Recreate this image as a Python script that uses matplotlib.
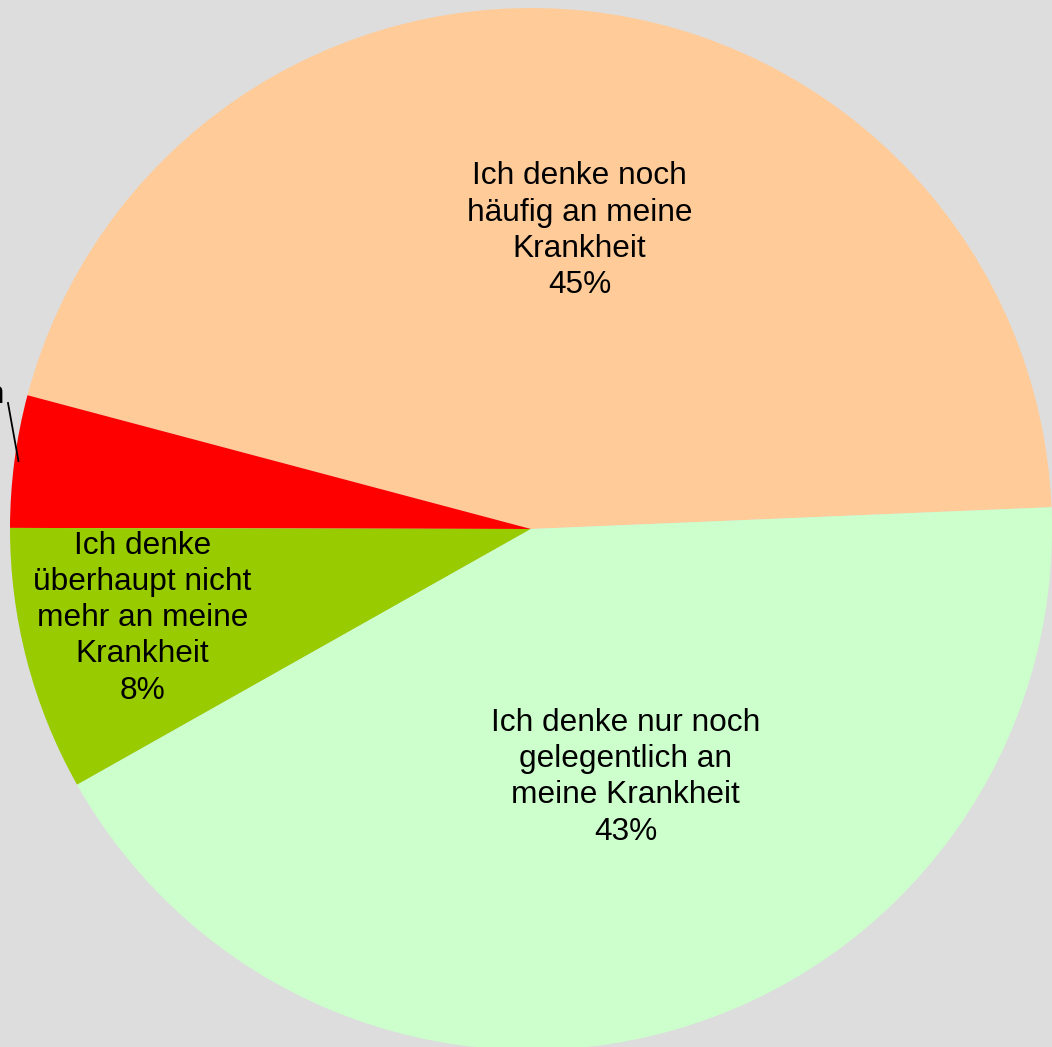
import numpy as np
import matplotlib.pyplot as plt

plt.rcParams['font.family'] = ['Liberation Sans', 'DejaVu Sans']

# data, counter-clockwise from the right edge
labels = ['Ich denke noch\nhäufig an meine\nKrankheit',
          'Ich denke nur noch selten an\nmeine Krankheit',
          'Ich denke\nüberhaupt nicht\nmehr an meine\nKrankheit',
          'Ich denke nur noch\ngelegentlich an\nmeine Krankheit']
values = [45.2, 4.1, 8.2, 42.5]
shown_pct = ['45%', '4%', '8%', '43%']
colors = ['#FFCC99', '#FF0000', '#99CC00', '#CCFFCC']

W, H = 1052, 1047
fig = plt.figure(figsize=(W / 100, H / 100), dpi=100)
fig.patch.set_facecolor('#dddddd')
ax = fig.add_axes([0, 0, 1, 1])

cx, cy, R = 531, H - 529, 521
wedges, _ = ax.pie(values, colors=colors, startangle=2.4, counterclock=True,
                   center=(cx, cy), radius=R, frame=True,
                   wedgeprops=dict(linewidth=0))

# label distance (fraction of radius) and small angle tweak per slice
dist = [0.58, None, 0.765, 0.51]
dang = [-3, 0, -1.7, 5]
for i, w in enumerate(wedges):
    if dist[i] is None:
        continue
    mid = np.radians((w.theta1 + w.theta2) / 2 + dang[i])
    x = cx + dist[i] * R * np.cos(mid)
    y = cy + dist[i] * R * np.sin(mid)
    ax.text(x, y, labels[i] + '\n' + shown_pct[i], ha='center', va='center',
            fontsize=22.8, color='black', linespacing=1.27)

# red slice label sits outside the picture, only leader line visible
w = wedges[1]
mid = np.radians((w.theta1 + w.theta2) / 2)
ex = cx + R * np.cos(mid) + 4
ey = cy + R * np.sin(mid)
ax.plot([ex, 8], [ey, H - 403], color='black', lw=1.3)
ax.text(4, H - 380, labels[1] + '\n' + shown_pct[1], ha='right', va='top',
        multialignment='center', fontsize=22.8, linespacing=1.27)

ax.set_xlim(0, W)
ax.set_ylim(0, H)
ax.axis('off')

fig.savefig('out.png', dpi=100, facecolor=fig.get_facecolor())
